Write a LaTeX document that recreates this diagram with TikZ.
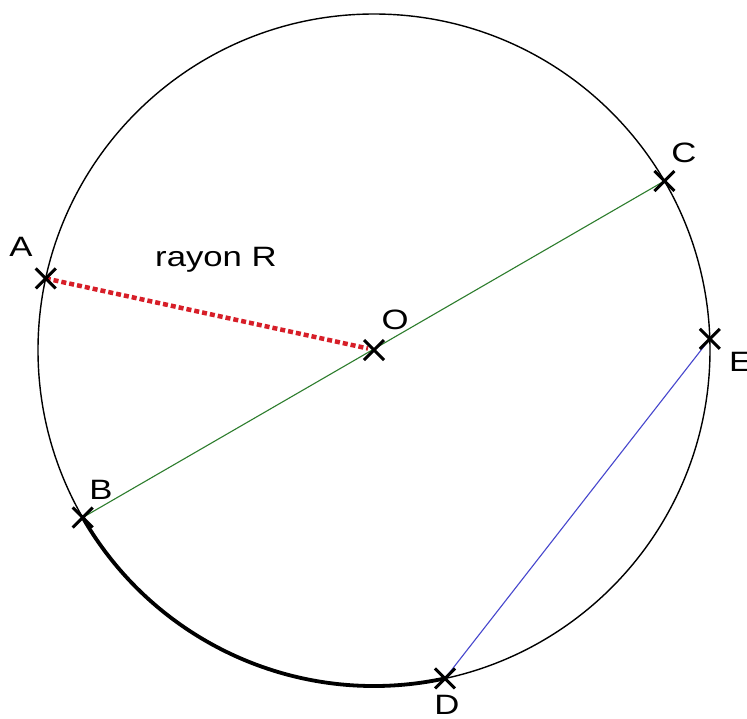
\documentclass[tikz,border=0pt]{standalone}
\usepackage{fontspec}
\setmainfont{Liberation Sans}
\usetikzlibrary{shapes.misc,calc}
\definecolor{diamgreen}{RGB}{45,125,45}
\definecolor{chordblue}{RGB}{70,70,205}
\definecolor{radred}{RGB}{215,30,40}
\tikzset{
  xmark/.style={draw=black, cross out, minimum size=17pt, inner sep=0pt, line width=3pt},
  lbl/.style={inner sep=0pt, font=\fontsize{28}{30}\selectfont},
  circ/.style={draw=black, line width=1.4pt},
  diam/.style={draw=diamgreen, line width=1.1pt},
  chord/.style={draw=chordblue, line width=1.1pt},
  radius line/.style={draw=radred, line width=4.5pt, dash pattern=on 5pt off 3pt},
  arcline/.style={draw=black, line width=3.8pt},
}
\newcommand{\wide}[1]{\scalebox{1.24}[1]{#1}}
\begin{document}
\begin{tikzpicture}[x=1pt, y=-1pt]
\clip (0,0) rectangle (747,718);
\fill[white] (0,0) rectangle (747,718);
\coordinate (O) at (374,350);
\coordinate (A) at ($(O)+(192.3:336)$);
\coordinate (C) at ($(O)+(-30.2:336)$);
\coordinate (E) at ($(O)+(-1.9:336)$);
\coordinate (B) at ($(O)+(150.1:336)$);
\coordinate (D) at ($(O)+(77.8:336)$);
% circle
\draw[circ] (O) circle[radius=336];
% thick arc B to D
\draw[arcline] (B) arc[start angle=150.1, end angle=77.8, radius=336];
% diameter B-C
\draw[diam] (B) -- (C);
% chord D-E
\draw[chord] (D) -- (E);
% radius A-O
\draw[radius line] (A) -- ($(O)+(-6,-1.5)$);
% marks
\node[xmark] (mA) at (A) {};
\node[xmark] (mB) at (B) {};
\node[xmark] (mC) at (C) {};
\node[xmark] (mD) at (D) {};
\node[xmark] (mE) at (E) {};
\node[xmark] (mO) at (O) {};
% labels
\node[lbl] (lA) at (21,247) {\wide{A}};
\node[lbl] (lC) at (684,153) {\wide{C}};
\node[lbl, anchor=west] (lE) at (729,362) {\wide{E}};
\node[lbl] (lB) at (101,490) {\wide{B}};
\node[lbl] (lD) at (447,705) {\wide{D}};
\node[lbl] (lO) at (395,320) {\wide{O}};
\node[lbl, anchor=base west] (lR) at (155,266) {\wide{rayon R}};
\end{tikzpicture}
\end{document}
